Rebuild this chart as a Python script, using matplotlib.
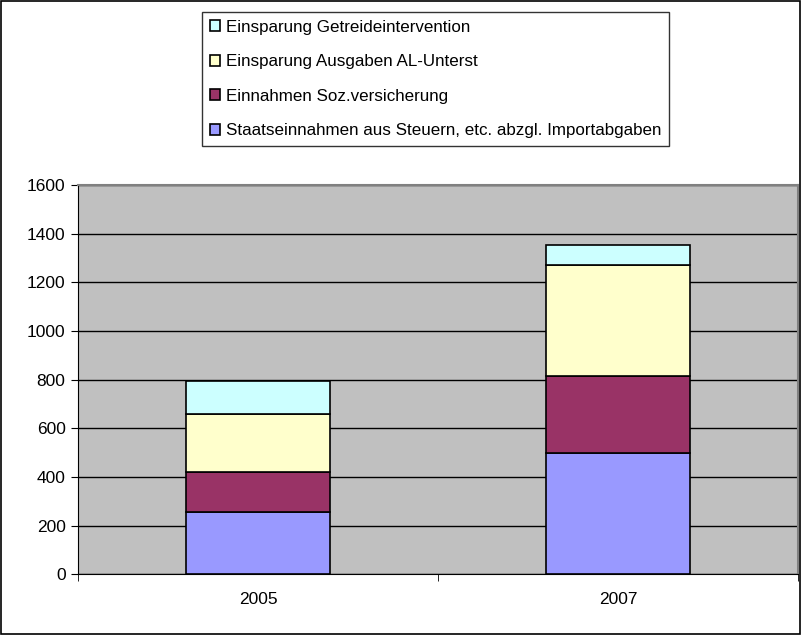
import numpy as np
import matplotlib.pyplot as plt
from matplotlib.patches import Rectangle

plt.rcParams['font.family'] = ['Liberation Sans', 'DejaVu Sans']

# data
jahre = ['2005', '2007']
steuern = [255, 497]        # Staatseinnahmen aus Steuern, etc. abzgl. Importabgaben
sozvers = [165, 318]        # Einnahmen Soz.versicherung
al_unterst = [240, 455]     # Einsparung Ausgaben AL-Unterst
getreide = [135, 85]        # Einsparung Getreideintervention

serien = [
    ('Staatseinnahmen aus Steuern, etc. abzgl. Importabgaben', steuern, '#9999FF'),
    ('Einnahmen Soz.versicherung', sozvers, '#993366'),
    ('Einsparung Ausgaben AL-Unterst', al_unterst, '#FFFFCC'),
    ('Einsparung Getreideintervention', getreide, '#CCFFFF'),
]

fig = plt.figure(figsize=(8.02, 6.35), dpi=100)
ax = fig.add_axes([0.0973, 0.0956, 0.8977, 0.613])
ax.set_facecolor('#C0C0C0')

x = np.arange(len(jahre))
unten = np.zeros(len(jahre))
handles = []
for name, werte, farbe in serien:
    b = ax.bar(x, werte, width=0.4, bottom=unten, color=farbe,
               edgecolor='black', linewidth=1.2, label=name, zorder=3)
    handles.append(b)
    unten += np.array(werte)

ax.set_xlim(-0.5, 1.5)
ax.set_ylim(0, 1600)
ax.set_yticks(np.arange(0, 1601, 200))
ax.yaxis.grid(True, color='black', linewidth=1, zorder=1)
ax.set_axisbelow(True)
ax.set_xticks(x)
ax.set_xticklabels(jahre)
ax.set_xticks([-0.5, 0.5, 1.5], minor=True)
ax.tick_params(axis='x', which='major', length=0, labelsize=12.5, pad=13)
ax.tick_params(axis='x', which='minor', length=5, direction='out', color='black')
ax.tick_params(axis='y', length=5, direction='out', labelsize=12.5, pad=4)
for side in ['top', 'right']:
    ax.spines[side].set_color('#808080')
    ax.spines[side].set_linewidth(1.5)
ax.spines['left'].set_color('black')
ax.spines['bottom'].set_color('black')

leg = fig.legend(handles[::-1], [s[0] for s in serien][::-1],
                 loc='upper left', bbox_to_anchor=(202 / 802, 1 - 12 / 635),
                 frameon=True, fancybox=False, edgecolor='black',
                 fontsize=12.25, handlelength=0.6, handleheight=0.6,
                 handletextpad=0.35, labelspacing=1.15, borderpad=0.45,
                 borderaxespad=0)
leg.get_frame().set_linewidth(1)

fig.patches.append(Rectangle((0.001, 0.001), 0.997, 0.997, transform=fig.transFigure,
                             fill=False, edgecolor='black', linewidth=1.2))

fig.savefig('out.png', dpi=100)
